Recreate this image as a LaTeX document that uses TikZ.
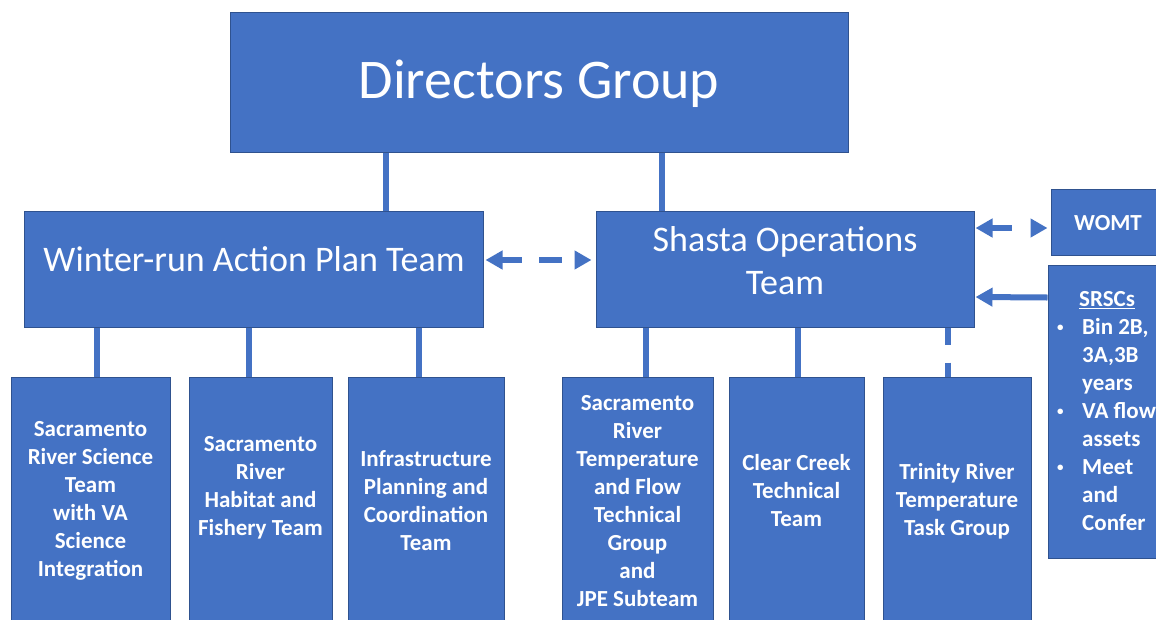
\documentclass[tikz,border=0pt]{standalone}
\usepackage{fontspec}
\setmainfont{Carlito}
\usetikzlibrary{arrows.meta}
\definecolor{blu}{HTML}{4472C4}
\definecolor{bdr}{HTML}{2F528F}
\newcommand{\smbul}{\makebox[28pt][l]{\hspace*{3pt}\raisebox{2.5pt}{\fontsize{13}{13}\selectfont\textbullet}}}
\begin{document}
\begin{tikzpicture}[x=1pt,y=-1pt,
  box/.style={rectangle, draw=bdr, fill=blu, line width=1pt, inner sep=0pt},
  conn/.style={draw=blu, line width=6pt},
  lbl/.style={text=white, inner sep=0pt, align=center, font=\bfseries\fontsize{23}{28}\selectfont},
  >={Triangle[width=18pt,length=17pt]}
]
\useasboundingbox (0,0) rectangle (1156,619);
\fill[white] (0,0) rectangle (1156,619);
\clip (0,0) rectangle (1156,619);

% top level
\node[box, minimum width=618pt, minimum height=140pt] (dir) at (539,82) {};
\node[text=white, inner sep=0pt, font=\fontsize{56}{67}\selectfont] (dirt) at (539,84) {Directors Group};

% middle level
\node[box, minimum width=459pt, minimum height=116pt] (wr) at (253.5,269) {};
\node[text=white, inner sep=0pt, font=\fontsize{36}{43}\selectfont] (wrt) at (254,259) {Winter-run Action Plan Team};
\node[box, minimum width=378pt, minimum height=116pt] (so) at (785,269) {};
\node[text=white, inner sep=0pt, align=center, font=\fontsize{36}{43}\selectfont] (sot) at (785,260.5) {Shasta Operations\\Team};

% right side
\node[box, minimum width=114pt, minimum height=66pt] (womt) at (1108,222) {};
\node[lbl] (womtt) at (1108,223) {WOMT};
\node[box, minimum width=117pt, minimum height=293pt] (srsc) at (1106.5,411.5) {};
\node[lbl, anchor=west, align=left] (srsct) at (1054,411) {%
\makebox[25pt]{}\underline{SRSCs}\\
\smbul Bin 2B,\\
\makebox[28pt]{}3A,3B\\
\makebox[28pt]{}years\\
\smbul VA flow\\
\makebox[28pt]{}assets\\
\smbul Meet\\
\makebox[28pt]{}and\\
\makebox[28pt]{}Confer};

% bottom level
\node[box, minimum width=159pt, minimum height=253pt] (b1) at (90.5,503.5) {};
\node[box, minimum width=143pt, minimum height=253pt] (b2) at (260.5,503.5) {};
\node[box, minimum width=156pt, minimum height=253pt] (b3) at (426,503.5) {};
\node[box, minimum width=151pt, minimum height=253pt] (b4) at (637.5,503.5) {};
\node[box, minimum width=135pt, minimum height=253pt] (b5) at (796.5,503.5) {};
\node[box, minimum width=148pt, minimum height=253pt] (b6) at (957,503.5) {};

\node[lbl, yshift=2.5pt] (t1) at (b1.center) {Sacramento\\River Science\\Team\\with VA\\Science\\Integration};
\node[lbl, yshift=16pt] (t2) at (b2.center) {Sacramento\\River\\Habitat and\\Fishery Team};
\node[lbl, yshift=2.5pt] (t3) at (b3.center) {Infrastructure\\Planning and\\Coordination\\Team};
\node[lbl, yshift=2.5pt] (t4) at (b4.center) {Sacramento\\River\\Temperature\\and Flow\\Technical\\Group\\and\\JPE Subteam};
\node[lbl, yshift=12.5pt] (t5) at (b5.center) {Clear Creek\\Technical\\Team};
\node[lbl, yshift=2.5pt] (t6) at (b6.center) {Trinity River\\Temperature\\Task Group};

% x positions of vertical connectors
\coordinate (k1) at (386,0);
\coordinate (k2) at (662,0);
\coordinate (k3) at (97,0);
\coordinate (k4) at (249,0);
\coordinate (k5) at (419,0);
\coordinate (k6) at (646,0);
\coordinate (k7) at (798,0);
\coordinate (k8) at (948,0);

\draw[conn] (dir.south -| k1) -- (wr.north -| k1);
\draw[conn] (dir.south -| k2) -- (so.north -| k2);
\draw[conn] (wr.south -| k3) -- (b1.north -| k3);
\draw[conn] (wr.south -| k4) -- (b2.north -| k4);
\draw[conn] (wr.south -| k5) -- (b3.north -| k5);
\draw[conn] (so.south -| k6) -- (b4.north -| k6);
\draw[conn] (so.south -| k7) -- (b5.north -| k7);
\draw[conn, dash pattern=on 17pt off 18pt on 30pt] (so.south -| k8) -- (b6.north -| k8);

% horizontal arrows
\draw[conn, <->, dash pattern=on 21pt off 17pt on 23pt off 100pt]
  ([shift={(2,-9)}]wr.east) -- ([shift={(-4,-9)}]so.west);
\draw[conn, <->, dash pattern=on 21pt off 100pt]
  ([shift={(1,-41)}]so.east) -- ([shift={(-3,6)}]womt.west);
\draw[conn, ->] ([shift={(0,-114)}]srsc.west) -- ([shift={(1,28)}]so.east);
\end{tikzpicture}
\end{document}
